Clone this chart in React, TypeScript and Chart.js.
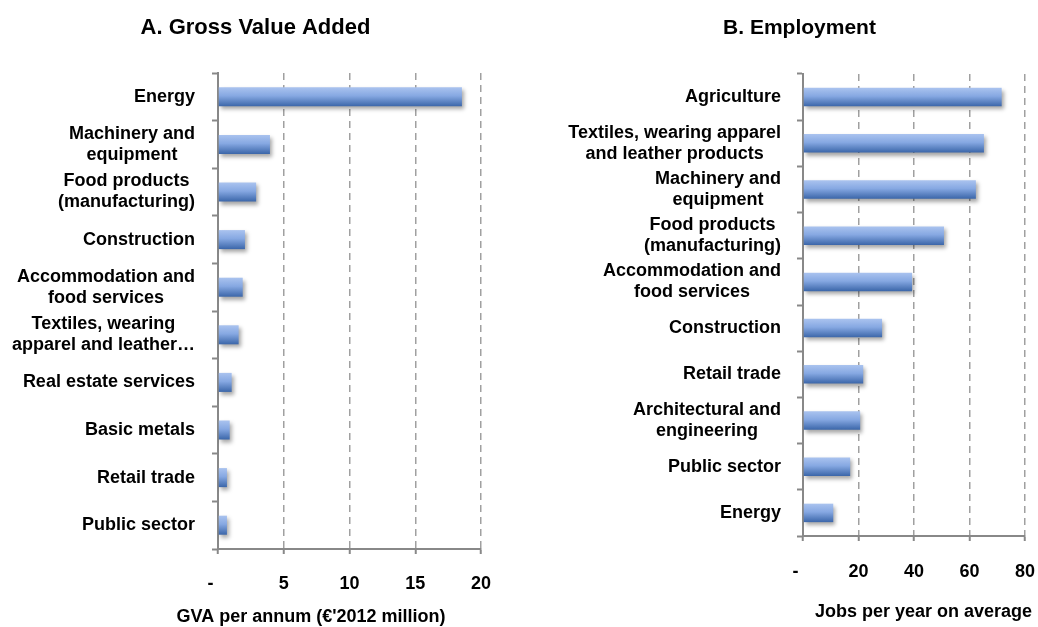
import React, { useEffect, useRef } from "react";
import { Chart, registerables } from "chart.js";

Chart.register(...registerables);

// ---------- Data ----------
const gvaCategories: string[][] = [
  ["Energy"],
  ["Machinery and", "equipment"],
  ["Food products", "(manufacturing)"],
  ["Construction"],
  ["Accommodation and", "food services"],
  ["Textiles, wearing", "apparel and leather…"],
  ["Real estate services"],
  ["Basic metals"],
  ["Retail trade"],
  ["Public sector"],
];
const gvaValues = [18.55, 3.95, 2.9, 2.05, 1.88, 1.57, 1.04, 0.89, 0.68, 0.68];
const gvaTickValues = [0, 5, 10, 15, 20];
const gvaTickLabels = ["-", "5", "10", "15", "20"];

const empCategories: string[][] = [
  ["Agriculture"],
  ["Textiles, wearing apparel", "and leather products"],
  ["Machinery and", "equipment"],
  ["Food products ", "(manufacturing)"],
  ["Accommodation and", "food services"],
  ["Construction"],
  ["Retail trade"],
  ["Architectural and", "engineering"],
  ["Public sector"],
  ["Energy"],
];
const empValues = [71.6, 65.2, 62.3, 50.8, 39.3, 28.5, 21.7, 20.6, 17.0, 10.9];
const empTickValues = [0, 20, 40, 60, 80];
const empTickLabels = ["-", "20", "40", "60", "80"];

const titleA = "A. Gross Value Added";
const titleB = "B. Employment";
const xTitleA = "GVA per annum (€'2012 million)";
const xTitleB = "Jobs per year on average";

// ---------- Styling ----------
const FONT = "'Liberation Sans', Arial, Helvetica, sans-serif";
Chart.defaults.font.family = FONT;

interface PanelProps {
  categories: string[][];
  values: number[];
  tickValues: number[];
  tickLabels: string[];
  title: string;
  xTitle: string;
  layout: {
    left: number;
    width: number;
    height: number;
    areaLeft: number;
    areaRight: number;
    areaTop: number;
    areaBottom: number;
    titleX: number;
    titleY: number;
    titleSize: number;
    xTitleX: number;
    xTitleY: number;
    tickPad: number;
    labelGap: number;
  };
}

function Panel(props: PanelProps) {
  const ref = useRef<HTMLCanvasElement | null>(null);

  useEffect(() => {
    const canvas = ref.current;
    if (!canvas) return;
    const L = props.layout;
    const { categories, values, tickValues, tickLabels } = props;

    const textPlugin = {
      id: "panelText",
      afterDraw(chart: any) {
        const ctx = chart.ctx;
        const ys = chart.scales.y;
        ctx.save();
        ctx.fillStyle = "#000";
        ctx.font = `bold ${L.titleSize}px ${FONT}`;
        ctx.textAlign = "center";
        ctx.textBaseline = "middle";
        ctx.fillText(props.title, L.titleX, L.titleY);
        ctx.font = `bold 18px ${FONT}`;
        ctx.fillText(props.xTitle, L.xTitleX, L.xTitleY);
        const lineH = 21;
        categories.forEach((lines, i) => {
          const widths = lines.map((s) => ctx.measureText(s.trim()).width);
          const maxW = Math.max(...widths);
          const right = chart.chartArea.left - L.labelGap;
          const cx = right - maxW / 2;
          const c = ys.getPixelForTick(i);
          const start = c - ((lines.length - 1) * lineH) / 2;
          lines.forEach((s, j) => {
            ctx.fillText(s.trim(), cx, start + j * lineH);
          });
        });
        ctx.restore();
      },
    };

    const shadowPlugin = {
      id: "barShadow",
      beforeDatasetsDraw(chart: any) {
        const ctx = chart.ctx;
        ctx.save();
        ctx.shadowColor = "rgba(0,0,0,0.35)";
        ctx.shadowBlur = 4;
        ctx.shadowOffsetX = 2;
        ctx.shadowOffsetY = 3;
      },
      afterDatasetsDraw(chart: any) {
        chart.ctx.restore();
      },
    };

    const chart = new Chart(canvas, {
      type: "bar",
      data: {
        labels: categories.map((l) => l.join(" ")),
        datasets: [
          {
            data: values,
            barPercentage: 0.4,
            categoryPercentage: 1,
            borderWidth: 0,
            backgroundColor: (ctx: any) => {
              const ch = ctx.chart;
              const ys = ch.scales && ch.scales.y;
              if (!ys || ctx.type !== "data") return "#7c9fdc";
              const c = ys.getPixelForValue(ctx.dataIndex);
              const half = (ys.height / categories.length) * 0.2;
              if (!isFinite(c) || !isFinite(half) || half <= 0) return "#7c9fdc";
              const g = ch.ctx.createLinearGradient(0, c - half, 0, c + half);
              g.addColorStop(0, "#aac3ef");
              g.addColorStop(0.45, "#86a8e2");
              g.addColorStop(1, "#3b66a9");
              return g;
            },
          },
        ],
      },
      options: {
        indexAxis: "y",
        animation: false,
        responsive: false,
        maintainAspectRatio: false,
        layout: {
          padding: {
            top: L.areaTop,
            left: 0,
            right: L.width - L.areaRight,
            bottom: 0,
          },
        },
        plugins: {
          legend: { display: false },
          tooltip: { enabled: false },
          title: { display: false },
        },
        scales: {
          x: {
            type: "linear",
            min: tickValues[0],
            max: tickValues[tickValues.length - 1],
            afterBuildTicks: (scale: any) => {
              scale.ticks = tickValues.map((v) => ({ value: v }));
            },
            afterFit: (scale: any) => {
              scale.height = L.height - L.areaBottom;
              scale.paddingLeft = 0;
              scale.paddingRight = 0;
            },
            ticks: {
              color: "#000",
              font: { size: 18, weight: "bold" },
              padding: L.tickPad,
              maxRotation: 0,
              callback: (v: any) => {
                const i = tickValues.indexOf(Number(v));
                if (i < 0) return "";
                return i === 0 ? tickLabels[i] + "   " : tickLabels[i];
              },
            },
            grid: {
              color: "#a0a0a0",
              lineWidth: 1.5,
              tickLength: 5,
              tickColor: "#888",
              tickWidth: 2,
              tickBorderDash: [],
            } as any,
            border: { color: "#888", width: 2, dash: [7, 5] },
          },
          y: {
            type: "category",
            afterFit: (scale: any) => {
              scale.width = L.areaLeft;
            },
            ticks: { display: false },
            grid: {
              offset: true,
              drawOnChartArea: false,
              tickLength: 6,
              tickColor: "#888",
              tickWidth: 2,
            },
            border: { color: "#888", width: 2 },
          },
        },
      } as any,
      plugins: [shadowPlugin, textPlugin],
    });

    return () => chart.destroy();
  }, []);

  const L = props.layout;
  return (
    <canvas
      ref={ref}
      width={L.width}
      height={L.height}
      style={{
        position: "absolute",
        left: L.left,
        top: 0,
        width: L.width,
        height: L.height,
        display: "block",
      }}
    />
  );
}

export default function App() {
  return (
    <div
      style={{
        position: "absolute",
        left: 0,
        top: 0,
        width: 1038,
        height: 627,
        background: "#fff",
        overflow: "hidden",
      }}
    >
      <Panel
        categories={gvaCategories}
        values={gvaValues}
        tickValues={gvaTickValues}
        tickLabels={gvaTickLabels}
        title={titleA}
        xTitle={xTitleA}
        layout={{
          left: 0,
          width: 500,
          height: 627,
          areaLeft: 218,
          areaRight: 481,
          areaTop: 73,
          areaBottom: 549,
          titleX: 255.5,
          titleY: 27.5,
          titleSize: 22,
          xTitleX: 311,
          xTitleY: 617,
          tickPad: 19,
          labelGap: 23,
        }}
      />
      <Panel
        categories={empCategories}
        values={empValues}
        tickValues={empTickValues}
        tickLabels={empTickLabels}
        title={titleB}
        xTitle={xTitleB}
        layout={{
          left: 520,
          width: 518,
          height: 627,
          areaLeft: 283,
          areaRight: 505,
          areaTop: 74,
          areaBottom: 536,
          titleX: 279.5,
          titleY: 28,
          titleSize: 21,
          xTitleX: 403.5,
          xTitleY: 612,
          tickPad: 20,
          labelGap: 22,
        }}
      />
    </div>
  );
}
